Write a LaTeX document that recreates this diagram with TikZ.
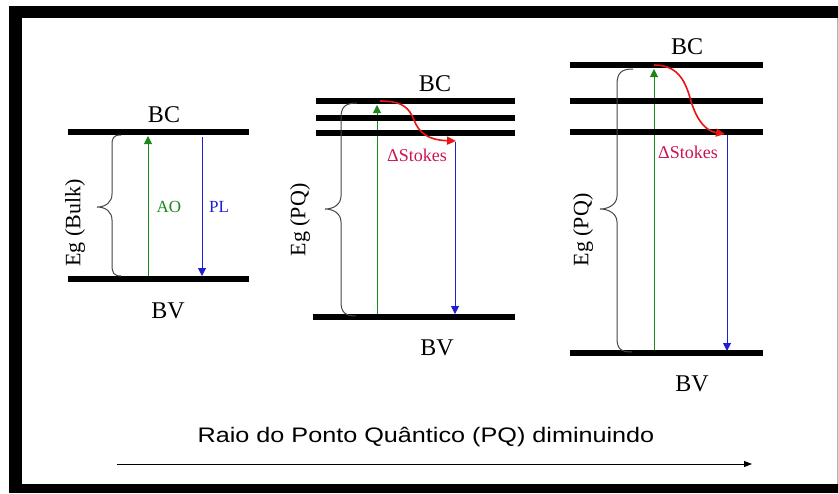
\documentclass[tikz,border=0pt]{standalone}
\usepackage{fontspec}
\setmainfont{Liberation Serif}
\newfontfamily\arialf{Liberation Sans}
\usetikzlibrary{arrows.meta}
\definecolor{aogreen}{RGB}{25,135,25}
\definecolor{plblue}{RGB}{30,30,210}
\definecolor{stred}{RGB}{235,20,20}
\definecolor{stlab}{RGB}{205,20,80}
\definecolor{brgray}{RGB}{70,70,70}
\begin{document}
\begin{tikzpicture}[x=1pt,y=-1pt,
  level/.style={line width=6.5pt,black},
  band/.style={font=\fontsize{24}{28}\selectfont,inner sep=0pt},
  eglab/.style={font=\fontsize{22}{26}\selectfont,rotate=90,inner sep=0pt},
  small/.style={font=\fontsize{17}{20}\selectfont,inner sep=0pt},
  stokes/.style={font=\fontsize{18}{21}\selectfont,inner sep=0pt,text=stlab},
  absarrow/.style={aogreen,line width=1pt,-{Triangle[length=8pt,width=8pt]}},
  emarrow/.style={plblue,line width=1pt,-{Triangle[length=8pt,width=8pt]}},
  relax/.style={stred,line width=1.6pt,-{Triangle[length=9pt,width=8pt]}},
  bracep/.style={brgray,line width=1pt}]
\useasboundingbox (0,0) rectangle (838,493);
\fill[white] (0,0) rectangle (838,493);
% frame
\fill[black] (9,6) rectangle (838,18);
\fill[black] (9,6) rectangle (22,493);
\fill[black] (9,484) rectangle (838,493);
\draw[gray!60,line width=1pt] (837,18) -- (837,484);

% ---------- panel 1 ----------
\coordinate (a1) at (148,276);
\coordinate (b1) at (148,136);
\coordinate (c1) at (202,137);
\coordinate (d1) at (202,276);
\draw[absarrow] (a1) -- (b1);
\draw[emarrow] (c1) -- (d1);
\draw[level] (68,132) -- (249,132);
\draw[level] (68,279) -- (249,279);
\node[band] (bc1) at (164,115) {BC};
\node[band] (bv1) at (168,311) {BV};
\node[small,text=aogreen] (ao) at (169,207) {AO};
\node[small,text=plblue] (pl) at (219,207) {PL};
\draw[bracep] (121,135) .. controls (113,135) and (112,138) .. (112,146)
  -- (112,194) .. controls (112,202) and (106,207) .. (97,207)
  .. controls (106,207) and (112,212) .. (112,220)
  -- (112,265) .. controls (112,273) and (114,276) .. (121,276);
\node[eglab] (eg1) at (75,223) {Eg (Bulk)};

% ---------- panel 2 ----------
\coordinate (a2) at (377,314);
\coordinate (b2) at (377,105);
\coordinate (s2) at (380,101);
\coordinate (e2) at (456,141);
\coordinate (c2) at (455,142);
\coordinate (d2) at (455,314);
\draw[absarrow] (a2) -- (b2);
\draw[emarrow] (c2) -- (d2);
\draw[level] (316,101) -- (515,101);
\draw[level] (316,118) -- (515,118);
\draw[level] (316,133) -- (515,133);
\draw[level] (313,317) -- (515,317);
\draw[relax] (s2) .. controls (403,101) and (409,108) .. (414,120)
  .. controls (419,133) and (428,140) .. (e2);
\node[band] (bc2) at (435,84) {BC};
\node[band] (bv2) at (437,348) {BV};
\node[stokes] (st2) at (417,155) {ΔStokes};
\draw[bracep] (357,103) .. controls (345,103) and (341,107) .. (341,118)
  -- (341,196) .. controls (341,204) and (334,209) .. (325,209)
  .. controls (334,209) and (341,214) .. (341,222)
  -- (341,302) .. controls (341,312) and (345,316) .. (356,316);
\node[eglab] (eg2) at (300,220) {Eg (PQ)};

% ---------- panel 3 ----------
\coordinate (a3) at (654,351);
\coordinate (b3) at (654,69);
\coordinate (s3) at (654,65);
\coordinate (e3) at (725,134);
\coordinate (c3) at (727,135);
\coordinate (d3) at (727,351);
\draw[absarrow] (a3) -- (b3);
\draw[emarrow] (c3) -- (d3);
\draw[level] (570,65) -- (763,65);
\draw[level] (570,101) -- (763,101);
\draw[level] (570,132) -- (763,132);
\draw[level] (570,353) -- (763,353);
\draw[relax] (s3) .. controls (680,65) and (686,84) .. (691,101)
  .. controls (697,121) and (706,131) .. (e3);
\node[band] (bc3) at (687,47) {BC};
\node[band] (bv3) at (692,384) {BV};
\node[stokes] (st3) at (688,152) {ΔStokes};
\draw[bracep] (633,69) .. controls (621,69) and (617,73) .. (617,85)
  -- (617,196) .. controls (617,204) and (609,209) .. (600,209)
  .. controls (609,209) and (617,214) .. (617,222)
  -- (617,338) .. controls (617,349) and (621,352) .. (632,352);
\node[eglab] (eg3) at (583,230) {Eg (PQ)};

% ---------- bottom ----------
\node[inner sep=0pt] (cap) at (426,437) {\scalebox{1.2}[1]{\arialf\fontsize{21}{25}\selectfont Raio do Ponto Quântico (PQ) diminuindo}};
\coordinate (r0) at (117,464);
\coordinate (r1) at (752,464);
\draw[line width=1pt,-{Triangle[length=8pt,width=6pt]}] (r0) -- (r1);
\end{tikzpicture}
\end{document}
